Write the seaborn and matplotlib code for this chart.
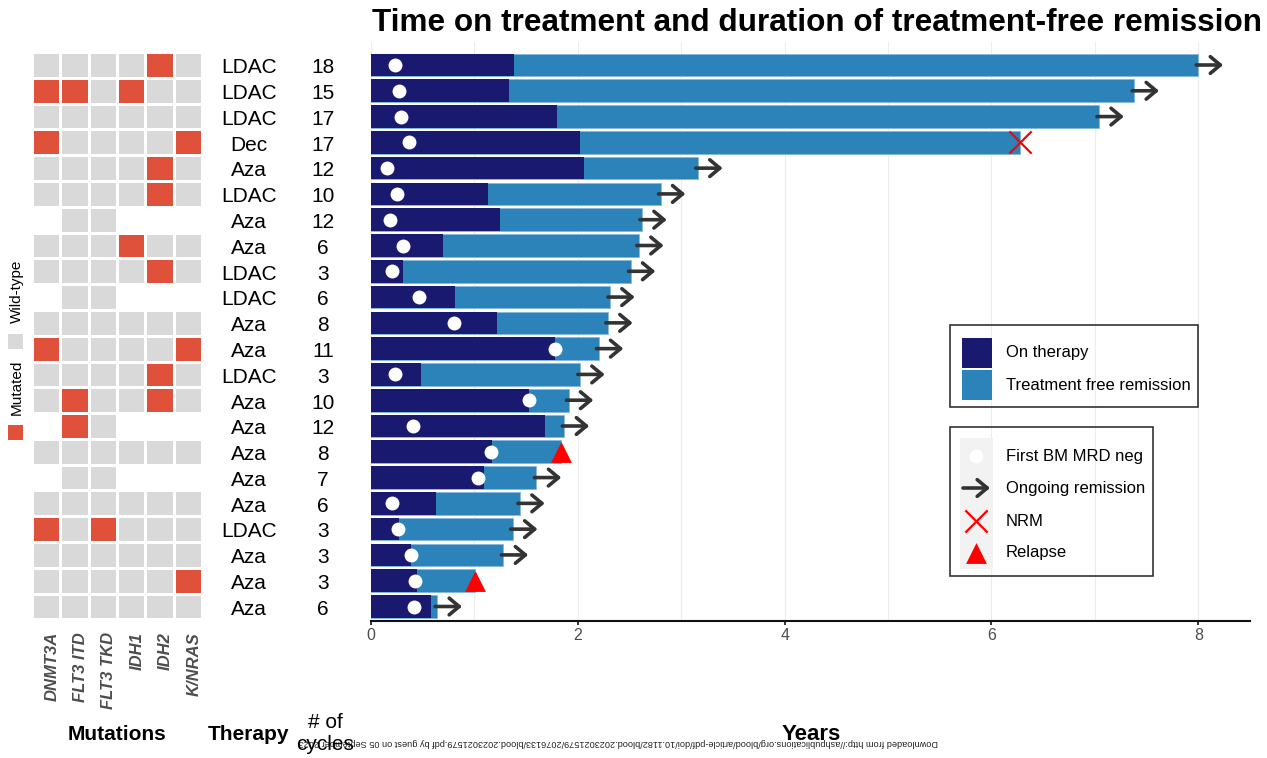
import matplotlib
matplotlib.use("Agg")
import matplotlib.pyplot as plt
import matplotlib.transforms as mtransforms
from matplotlib.patches import Rectangle, FancyArrowPatch
from matplotlib.colors import ListedColormap
import numpy as np
import pandas as pd
import seaborn as sns

# ---------------- data ----------------
therapy = ["LDAC", "LDAC", "LDAC", "Dec", "Aza", "LDAC", "Aza", "Aza", "LDAC", "LDAC", "Aza",
           "Aza", "LDAC", "Aza", "Aza", "Aza", "Aza", "Aza", "LDAC", "Aza", "Aza", "Aza"]
cycles = [18, 15, 17, 17, 12, 10, 12, 6, 3, 6, 8, 11, 3, 10, 12, 8, 7, 6, 3, 3, 3, 6]
on_therapy = [1.38, 1.33, 1.80, 2.02, 2.06, 1.13, 1.25, 0.70, 0.31, 0.81, 1.22,
              1.78, 0.48, 1.53, 1.68, 1.17, 1.09, 0.63, 0.27, 0.39, 0.44, 0.58]
total_time = [8.00, 7.38, 7.04, 6.28, 3.16, 2.80, 2.62, 2.59, 2.51, 2.31, 2.29,
              2.20, 2.02, 1.91, 1.87, 1.84, 1.60, 1.44, 1.37, 1.28, 1.01, 0.64]
mrd_neg = [0.23, 0.27, 0.29, 0.37, 0.15, 0.25, 0.18, 0.31, 0.20, 0.46, 0.80,
           1.78, 0.23, 1.53, 0.41, 1.16, 1.03, 0.20, 0.26, 0.39, 0.43, 0.42]
outcome = ["Ongoing", "Ongoing", "Ongoing", "NRM", "Ongoing", "Ongoing", "Ongoing", "Ongoing",
           "Ongoing", "Ongoing", "Ongoing", "Ongoing", "Ongoing", "Ongoing", "Ongoing", "Relapse",
           "Ongoing", "Ongoing", "Ongoing", "Ongoing", "Relapse", "Ongoing"]

N = np.nan
genes = ["DNMT3A", "FLT3 ITD", "FLT3 TKD", "IDH1", "IDH2", "K/NRAS"]
dnmt3a = [0, 1, 0, 1, 0, 0, N, 0, 0, N, 0, 1, 0, 0, N, 0, N, 0, 1, 0, 0, 0]
flt3_itd = [0, 1, 0, 0, 0, 0, 0, 0, 0, 0, 0, 0, 0, 1, 1, 0, 0, 0, 0, 0, 0, 0]
flt3_tkd = [0, 0, 0, 0, 0, 0, 0, 0, 0, 0, 0, 0, 0, 0, 0, 0, 0, 0, 1, 0, 0, 0]
idh1 = [0, 1, 0, 0, 0, 0, N, 1, 0, N, 0, 0, 0, 0, N, 0, N, 0, 0, 0, 0, 0]
idh2 = [1, 0, 0, 0, 1, 1, N, 0, 1, N, 0, 0, 1, 1, N, 0, N, 0, 0, 0, 0, 0]
knras = [0, 0, 0, 1, 0, 0, N, 0, 0, N, 0, 1, 0, 0, N, 0, N, 0, 0, 0, 1, 0]

NAVY = "#191970"
LIGHT = "#2C83BA"
RED_MUT = "#E0513B"
GREY = "#D9D9D9"

n = len(therapy)
df = pd.DataFrame({
    "pid": [f"P{i + 1:02d}" for i in range(n)],
    "therapy": therapy, "cycles": cycles, "on_therapy": on_therapy,
    "total": total_time, "mrd": mrd_neg, "outcome": outcome,
})
df["pos"] = np.arange(n)
mut = pd.DataFrame({genes[0]: dnmt3a, genes[1]: flt3_itd, genes[2]: flt3_tkd,
                    genes[3]: idh1, genes[4]: idh2, genes[5]: knras})

# ---------------- layout ----------------
sns.set_style("white")
plt.rcParams["font.family"] = ["Liberation Sans", "DejaVu Sans"]
plt.rcParams["text.color"] = "black"

W, H = 1267, 758
fig = plt.figure(figsize=(W / 100, H / 100), dpi=100)

top_px, bot_px = 42, 621
row0_px, rowN_px = 65.0, 606.5
sp = (rowN_px - row0_px) / (n - 1)
y_lo = (n - 1) + (bot_px - rowN_px) / sp
y_hi = -(row0_px - top_px) / sp

ax = fig.add_axes([371 / W, 1 - bot_px / H, (1250 - 371) / W, (bot_px - top_px) / H])
axh = fig.add_axes([32 / W, 1 - bot_px / H, (202 - 32) / W, (bot_px - top_px) / H])

# ---------------- bars ----------------
sns.barplot(data=df, x="total", y="pid", orient="h", color=LIGHT, saturation=1,
            width=0.88, errorbar=None, ax=ax, edgecolor="#86B8DB", linewidth=0.6, zorder=2)
sns.barplot(data=df, x="on_therapy", y="pid", orient="h", color=NAVY, saturation=1,
            width=0.88, errorbar=None, ax=ax, linewidth=0, zorder=3)

ax.scatter(df["mrd"], df["pos"], s=100, color="white", linewidths=0, zorder=5)

ong = df[df["outcome"] == "Ongoing"]
for _, r in ong.iterrows():
    arr = FancyArrowPatch((r["total"] - 0.02, r["pos"]), (r["total"] + 0.24, r["pos"]),
                          arrowstyle="->,head_length=0.6,head_width=0.5", mutation_scale=12,
                          lw=2.6, color="#333333", shrinkA=0, shrinkB=0, zorder=6, clip_on=False)
    ax.add_patch(arr)
nrm = df[df["outcome"] == "NRM"]
ax.scatter(nrm["total"], nrm["pos"], marker="x", s=256, color="red", linewidths=1.6, zorder=6)
rel = df[df["outcome"] == "Relapse"]
ax.scatter(rel["total"], rel["pos"], marker="^", s=225, color="red", linewidths=0, zorder=6)

ax.set_xlim(0, 8.5)
ax.set_ylim(y_lo, y_hi)
ax.set_xticks([0, 2, 4, 6, 8])
ax.set_xticks([1, 3, 5, 7], minor=True)
ax.set_yticks([])
ax.set_xlabel("")
ax.set_ylabel("")
for s in ["left", "top", "right"]:
    ax.spines[s].set_visible(False)
ax.spines["bottom"].set_linewidth(1.5)
ax.spines["bottom"].set_color("#111111")
ax.grid(axis="x", which="both", color="#EDEDED", lw=0.8)
ax.set_axisbelow(True)
ax.tick_params(axis="x", which="major", length=3, width=1.2, color="#111111",
               labelsize=11.5, labelcolor="#4D4D4D", pad=2, bottom=True)
ax.tick_params(axis="x", which="minor", length=0)

# therapy and cycle columns
tr = mtransforms.blended_transform_factory(fig.transFigure, ax.transData) + \
    mtransforms.ScaledTranslation(0, -8.3 / 100, fig.dpi_scale_trans)
for _, r in df.iterrows():
    ax.text(249 / W, r["pos"], r["therapy"], transform=tr, ha="center", va="baseline",
            fontsize=15, color="black", clip_on=False)
    ax.text(323 / W, r["pos"], str(r["cycles"]), transform=tr, ha="center", va="baseline",
            fontsize=15, color="black", clip_on=False)

# ---------------- heatmap ----------------
sns.heatmap(mut, ax=axh, cmap=ListedColormap([GREY, RED_MUT]), vmin=0, vmax=1, cbar=False,
            linewidths=0.8, linecolor="white", xticklabels=False, yticklabels=False)
axh.set_xlim(0, len(genes))
axh.set_ylim(y_lo + 0.5, y_hi + 0.5)
axh.set_xticks([])
axh.set_yticks([])
axh.set_xlabel("")
axh.set_ylabel("")
for s in axh.spines.values():
    s.set_visible(False)
gtr = mtransforms.blended_transform_factory(axh.transData, axh.transAxes) + \
    mtransforms.ScaledTranslation(6 / 100, -11 / 100, fig.dpi_scale_trans)
for i, g in enumerate(genes):
    axh.text(i + 0.5, 0, g, transform=gtr, rotation=90, ha="center", va="top",
             fontsize=12, fontstyle="italic", fontweight="bold", color="#4D4D4D", clip_on=False)

# ---------------- overlay (pixel coordinates) ----------------
ov = fig.add_axes([0, 0, 1, 1])
ov.set_xlim(0, W)
ov.set_ylim(H, 0)
ov.axis("off")

ov.text(817.5, 31, "Time on treatment and duration of treatment-free remission",
        ha="center", va="baseline", fontsize=22.7, fontweight="bold", color="black")

wm = ("Downloaded from http://ashpublications.org/blood/article-pdf/doi/10.1182/blood.2023021579/"
      "2076133/blood.2023021579.pdf by guest on 05 September 2023")
ov.text(618, 743, wm, rotation=180, ha="center", va="center", fontsize=6.6, color="#222222", zorder=1)

ov.text(117, 740, "Mutations", ha="center", va="baseline", fontsize=15, fontweight="bold", zorder=3)
ov.text(249, 740, "Therapy", ha="center", va="baseline", fontsize=15, fontweight="bold", zorder=3)
ov.text(811, 740, "Years", ha="center", va="baseline", fontsize=16, fontweight="bold", zorder=3)
ov.text(325, 728, "# of", ha="center", va="baseline", fontsize=15, zorder=3)
ov.text(325, 750, "cycles", ha="center", va="baseline", fontsize=15, zorder=3)

# mutation legend
ov.add_patch(Rectangle((8, 334), 15, 15, fc=GREY, ec="none"))
ov.add_patch(Rectangle((8, 425), 15, 15, fc=RED_MUT, ec="none"))
ov.text(17, 291, "Wild-type", rotation=90, ha="center", va="center", fontsize=11)
ov.text(17, 387, "Mutated", rotation=90, ha="center", va="center", fontsize=11)

# legend 1
ov.add_patch(Rectangle((950, 325), 248, 82, fill=False, ec="#333333", lw=1.2))
ov.add_patch(Rectangle((962, 338), 30, 30, fc=NAVY, ec="none"))
ov.add_patch(Rectangle((962, 370), 30, 30, fc=LIGHT, ec="none"))
ov.text(1006, 353, "On therapy", va="center", fontsize=12)
ov.text(1006, 386, "Treatment free remission", va="center", fontsize=12)

# legend 2
ov.add_patch(Rectangle((950, 427), 203, 149, fill=False, ec="#333333", lw=1.2))
ov.add_patch(Rectangle((960, 438), 33, 131, fc="#F2F2F2", ec="none"))
ov.scatter([976], [456], s=100, color="white", linewidths=0, zorder=3)
ov.add_patch(FancyArrowPatch((963, 488), (990, 488), arrowstyle="->,head_length=0.6,head_width=0.5",
                             mutation_scale=12, lw=2.6, color="#333333", shrinkA=0, shrinkB=0, zorder=3))
ov.scatter([976], [521], marker="x", s=256, color="red", linewidths=1.6, zorder=3)
ov.scatter([976], [553], marker="^", s=225, color="red", linewidths=0, zorder=3)
ov.text(1006, 456, "First BM MRD neg", va="center", fontsize=12)
ov.text(1006, 488, "Ongoing remission", va="center", fontsize=12)
ov.text(1006, 521, "NRM", va="center", fontsize=12)
ov.text(1006, 553, "Relapse", va="center", fontsize=12)

fig.savefig("out.png", dpi=100)
